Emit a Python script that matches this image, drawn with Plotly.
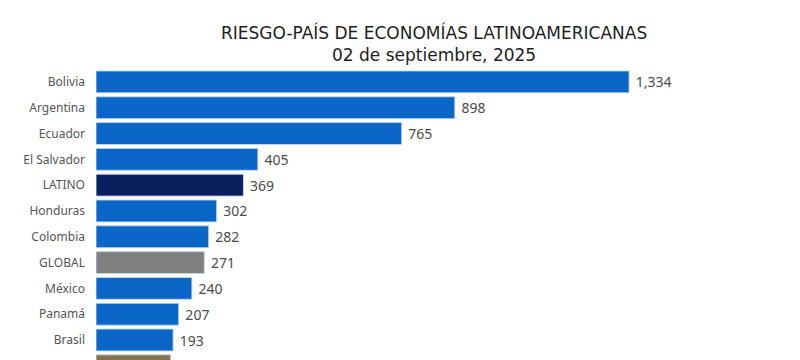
import plotly.graph_objects as go

categories = ["Bolivia", "Argentina", "Ecuador", "El Salvador", "LATINO", "Honduras",
              "Colombia", "GLOBAL", "México", "Panamá", "Brasil", "Guatemala"]
values = [1334, 898, 765, 405, 369, 302, 282, 271, 240, 207, 193, 187]
bar_colors = ["#0b67c7", "#0b67c7", "#0b67c7", "#0b67c7", "#0b1f5e", "#0b67c7",
              "#0b67c7", "#7f7f7f", "#0b67c7", "#0b67c7", "#0b67c7", "#85734f"]

title_line1 = "RIESGO-PAÍS DE ECONOMÍAS LATINOAMERICANAS"
title_line2 = "02 de septiembre, 2025"

FONT = "Noto Sans"
TITLE_FONT = "DejaVu Sans"

fig = go.Figure(go.Bar(
    y=categories,
    x=values,
    orientation="h",
    marker=dict(color=bar_colors, line=dict(color="rgba(200,215,235,0.9)", width=1)),
    text=values,
    texttemplate=" %{x:,}",
    textposition="outside",
    textfont=dict(family=FONT, size=14, color="#4a4a4a"),
    cliponaxis=False,
))

fig.update_layout(
    width=800, height=360,
    margin=dict(l=96, r=0, t=69, b=0, autoexpand=False),
    paper_bgcolor="white", plot_bgcolor="white",
    bargap=0.15,
    showlegend=False,
    font=dict(family=FONT, color="#444444"),
)
fig.add_annotation(text=title_line1 + "<br>" + title_line2, xref="paper", yref="paper",
                   x=(434 - 96) / 704, y=1 + (69 - 43.5) / 291,
                   xanchor="center", yanchor="middle", align="center", showarrow=False,
                   font=dict(family=TITLE_FONT, size=17, color="#1e1e1e"))

fig.update_xaxes(range=[0, 704 / 0.3996], visible=False, showgrid=False, zeroline=False,
                 automargin=False)
fig.update_yaxes(range=[10.775, -0.5], showgrid=False, zeroline=False, showline=False,
                 ticks="", ticklabelstandoff=10, automargin=False,
                 tickfont=dict(family=FONT, size=12, color="#555555"))

fig.write_html("out.html", config={"displayModeBar": False},
               post_script="document.body.style.margin='0';document.body.style.overflow='hidden';")
